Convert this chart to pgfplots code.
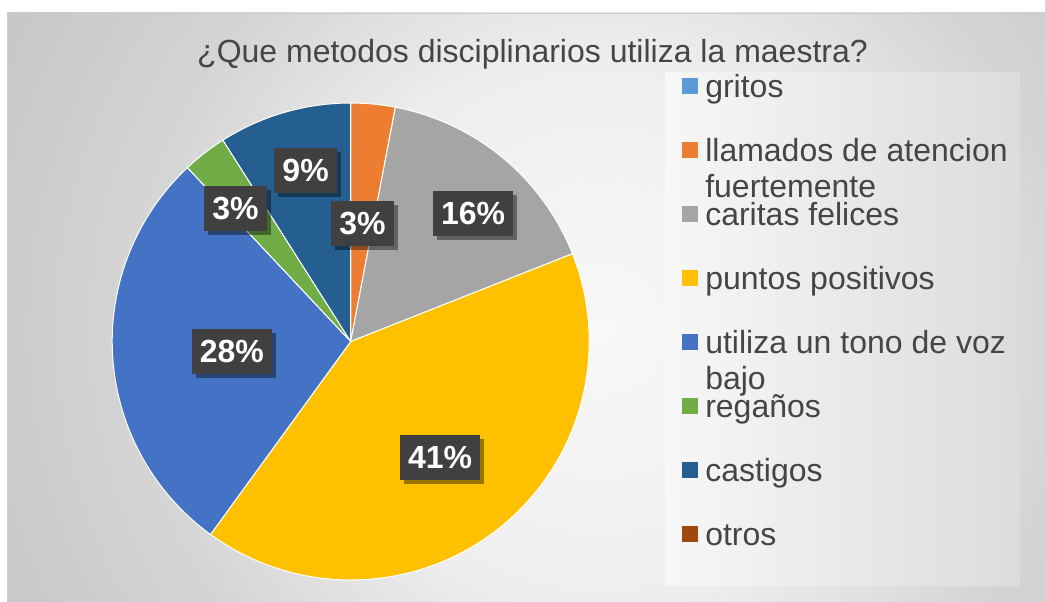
\documentclass[border=0pt]{standalone}
\usepackage{pgfplots}
\pgfplotsset{compat=1.18}
\usepgfplotslibrary{polar}
\usetikzlibrary{shadows}
\usepackage{fontspec}
\setmainfont{Liberation Sans}
\definecolor{cGritos}{HTML}{5B9BD5}
\definecolor{cLlam}{HTML}{ED7D31}
\definecolor{cCar}{HTML}{A5A5A5}
\definecolor{cPun}{HTML}{FFC000}
\definecolor{cUti}{HTML}{4472C4}
\definecolor{cReg}{HTML}{70AD47}
\definecolor{cCas}{HTML}{255E91}
\definecolor{cOtr}{HTML}{9E480E}
\definecolor{bg0}{HTML}{F8F8F8}
\definecolor{bg1}{HTML}{EEEEEE}
\definecolor{bg2}{HTML}{D5D5D5}
\definecolor{bg3}{HTML}{C8C8C8}
\definecolor{bg4}{HTML}{C3C3C3}
\definecolor{lgL}{HTML}{F7F7F7}
\definecolor{lgR}{HTML}{DCDCDC}
\definecolor{txt}{HTML}{454545}
\definecolor{lblc}{HTML}{404040}
\pgfdeclareradialshading{bgshade}{\pgfpoint{0bp}{0bp}}{color(0bp)=(bg0); color(10bp)=(bg1); color(17bp)=(bg2); color(24bp)=(bg3); color(28bp)=(bg4); color(50bp)=(bg4)}
\begin{document}
\begin{tikzpicture}[x=0.75pt,y=0.75pt,
  lbl/.style={fill=lblc, text=white, font=\fontsize{24}{27}\selectfont\bfseries,
    inner xsep=6pt, inner ysep=0pt, minimum height=33.75pt,
    drop shadow={shadow xshift=3pt, shadow yshift=-3pt, opacity=0.4, fill=black}}]
\useasboundingbox (0,0) rectangle (1045,601);
\fill[white] (0,0) rectangle (1045,601);
\begin{scope}
  \clip (7,0) rectangle (1045,588);
  \shade[shading=bgshade] (600,271) circle[radius=510pt];
\end{scope}
\draw[black!20, line width=0.75pt] (7.5,0) -- (7.5,587.5) -- (1045,587.5);
\shade[left color=lgL, right color=lgR] (665,16) rectangle (1020,528);
\node[anchor=base, font=\fontsize{24}{27}\selectfont, text=txt] at (532.5,538) {¿Que metodos disciplinarios utiliza la maestra?};
\begin{polaraxis}[
  at={(263.025pt,194.625pt)}, anchor=center,
  width=357.75pt, height=357.75pt, scale only axis,
  hide axis, ymin=0, ymax=1, clip=false,
  legend cell align=left,
  legend image code/.code={\fill[#1, draw=none] (0pt,-3.75pt) rectangle (12pt,8.25pt);},
  legend style={at={(1.1946,1.0629)}, anchor=north west, draw=none, fill=none,
    inner sep=0pt, row sep=24pt,
    /tikz/every odd column/.style={column sep=5.25pt},
    nodes={inner sep=0pt, text height=18pt, text depth=6pt,
      font=\fontsize{24}{27}\selectfont, text=txt}},
]
\addlegendimage{fill=cGritos}
\addlegendentry{gritos}
% values (percent), drawn clockwise from the top: 0, 3, 16, 41, 28, 3, 9, 0
\addplot[fill=cLlam, draw=white, line width=0.75pt, domain={90-3.6*3}:{90-3.6*0}, samples=40] {1} -- (axis cs:0,0) -- cycle;
\addlegendentry{\begin{tabular}[t]{@{}l@{}}llamados de atencion\\fuertemente\end{tabular}}
\addplot[fill=cCar, draw=white, line width=0.75pt, domain={90-3.6*19}:{90-3.6*3}, samples=60] {1} -- (axis cs:0,0) -- cycle;
\addlegendentry{caritas felices}
\addplot[fill=cPun, draw=white, line width=0.75pt, domain={90-3.6*60}:{90-3.6*19}, samples=100] {1} -- (axis cs:0,0) -- cycle;
\addlegendentry{puntos positivos}
\addplot[fill=cUti, draw=white, line width=0.75pt, domain={90-3.6*88}:{90-3.6*60}, samples=80] {1} -- (axis cs:0,0) -- cycle;
\addlegendentry{\begin{tabular}[t]{@{}l@{}}utiliza un tono de voz\\bajo\end{tabular}}
\addplot[fill=cReg, draw=white, line width=0.75pt, domain={90-3.6*91}:{90-3.6*88}, samples=40] {1} -- (axis cs:0,0) -- cycle;
\addlegendentry{regaños}
\addplot[fill=cCas, draw=white, line width=0.75pt, domain={90-3.6*100}:{90-3.6*91}, samples=40] {1} -- (axis cs:0,0) -- cycle;
\addlegendentry{castigos}
\addlegendimage{fill=cOtr}
\addlegendentry{otros}
\node[lbl] at (axis cs:84.3,0.499) {3\%};
\node[lbl] at (axis cs:46.4,0.744) {16\%};
\node[lbl] at (axis cs:-52.4,0.614) {41\%};
\node[lbl] at (axis cs:185,0.5) {28\%};
\node[lbl] at (axis cs:130.8,0.739) {3\%};
\node[lbl] at (axis cs:104.8,0.74) {9\%};
\end{polaraxis}
\end{tikzpicture}
\end{document}
